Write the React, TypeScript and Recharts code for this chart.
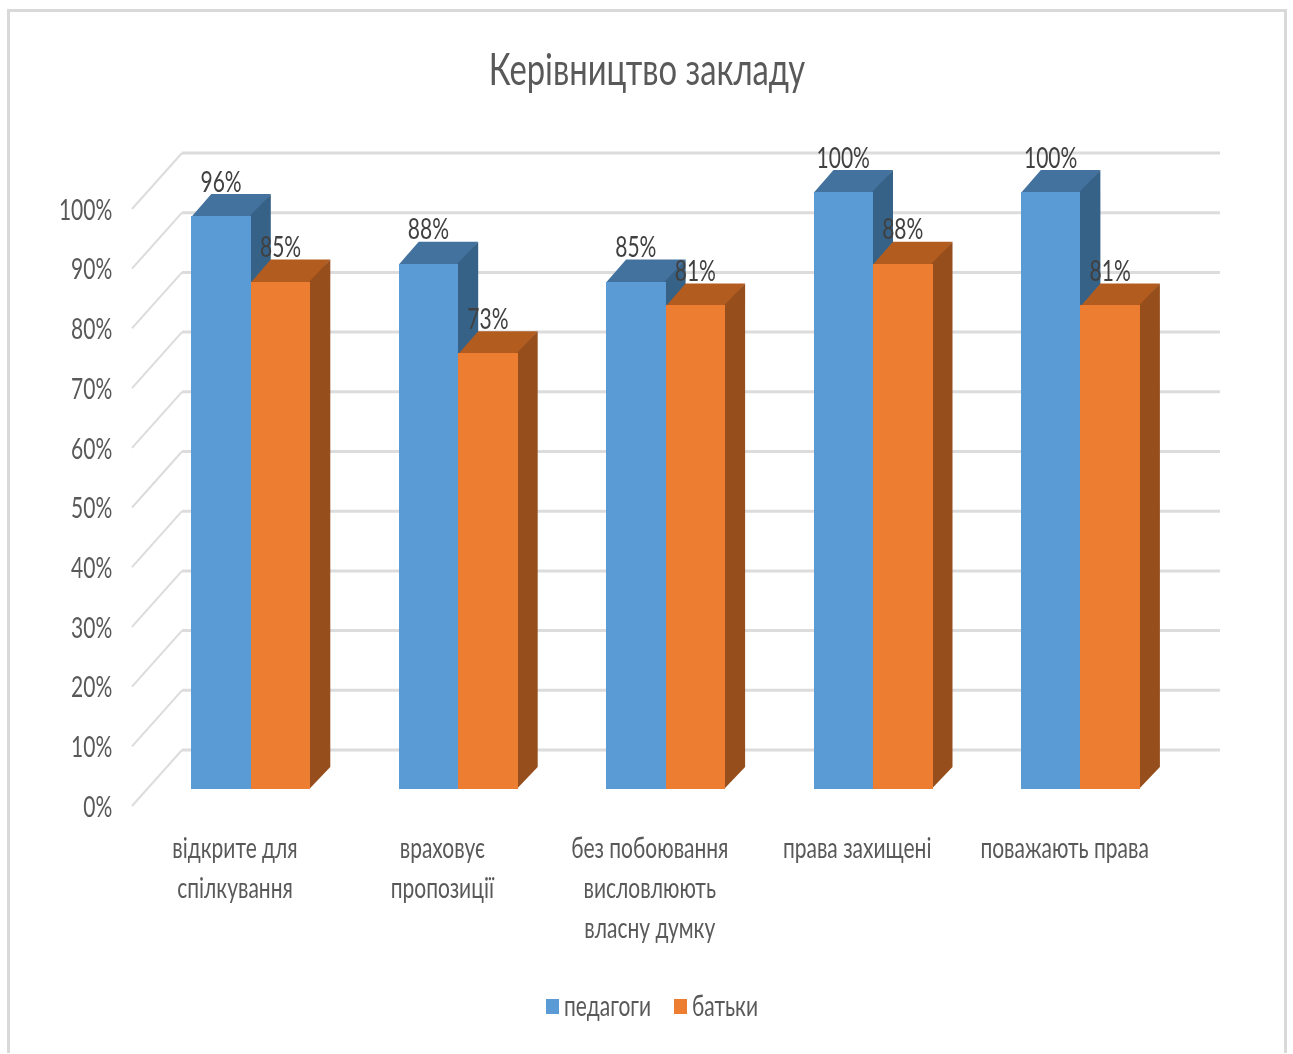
import React from "react";
import {
  Bar,
  BarChart,
  CartesianGrid,
  LabelList,
  Legend,
  XAxis,
  YAxis,
} from "recharts";

const categories = [
  "відкрите для|спілкування",
  "враховує|пропозиції",
  "без побоювання|висловлюють|власну думку",
  "права захищені",
  "поважають права",
];
const teachers = [96, 88, 85, 100, 100];
const parents = [85, 73, 81, 88, 81];
const yTicks = [0, 10, 20, 30, 40, 50, 60, 70, 80, 90, 100];

const chartData = categories.map((name, i) => ({
  name,
  teachers: teachers[i],
  parents: parents[i],
}));

const FONT = "Lato, 'Open Sans', sans-serif";
const TEXT_COLOR = "#595959";
const GRID_COLOR = "#dcdcdc";
// the picture is squeezed horizontally, so all the text is too
const SQUEEZE = 0.75;

const WIDTH = 1293;
const HEIGHT = 1054;
const BAR_DX = 20;
const BAR_DY = 22;

const Squeezed = function ({ x, y, size, anchor = "middle", fill = TEXT_COLOR, children }: any) {
  return (
    <text
      transform={`translate(${x} ${y}) scale(${SQUEEZE} 1)`}
      textAnchor={anchor}
      dominantBaseline="central"
      fontFamily={FONT}
      fontSize={size}
      fill={fill}
    >
      {children}
    </text>
  );
};

// bar with a top and a side face, as in the 3D column chart
const Box = function ({ x, y, width, height, fill, topFill, sideFill }: any) {
  const right = x + width;
  const bottom = y + height;
  return (
    <g>
      <polygon
        points={`${x},${y + 1} ${x + BAR_DX},${y - BAR_DY} ${right + BAR_DX},${y - BAR_DY} ${right},${y + 1}`}
        fill={topFill}
      />
      <polygon
        points={`${right - 1},${y} ${right + BAR_DX},${y - BAR_DY} ${right + BAR_DX},${bottom - BAR_DY} ${right - 1},${bottom}`}
        fill={sideFill}
      />
      <rect x={x} y={y} width={width} height={height} fill={fill} shapeRendering="crispEdges" />
    </g>
  );
};

// back wall line plus the diagonal running to the front edge
const WallLine = function (props: any) {
  const { y1, key } = props;
  return (
    <g key={key}>
      <line x1={182} x2={1220} y1={y1 - 39} y2={y1 - 39} stroke={GRID_COLOR} strokeWidth={3} />
      <line x1={132} x2={182} y1={y1 + 17} y2={y1 - 39} stroke={GRID_COLOR} strokeWidth={2} />
    </g>
  );
};

const YTick = function ({ x, y, payload }: any) {
  return (
    <Squeezed x={x - 27} y={y + 17} size={28} anchor="end">
      {payload.value}%
    </Squeezed>
  );
};

const XTick = function ({ x, payload }: any) {
  const lines = String(payload.value).split("|");
  return (
    <g>
      {lines.map((line, i) => (
        <Squeezed key={line} x={x - 16} y={847 + i * 40} size={28}>
          {line}
        </Squeezed>
      ))}
    </g>
  );
};

const ValueLabel = function (props: any) {
  const { x, y, width, value } = props;
  return (
    <Squeezed x={x + width / 2} y={y - 35} size={28} fill="#404040">
      {value}%
    </Squeezed>
  );
};

const LegendRow = function () {
  const items = [
    { label: "педагоги", color: "#5b9bd5", left: 546 },
    { label: "батьки", color: "#ed7d31", left: 674 },
  ];
  return (
    <svg width={WIDTH} height={40} style={{ display: "block" }}>
      {items.map((item) => (
        <g key={item.label}>
          <rect x={item.left} y={13} width={13} height={15} fill={item.color} />
          <Squeezed x={item.left + 18} y={19} size={28} anchor="start">
            {item.label}
          </Squeezed>
        </g>
      ))}
    </svg>
  );
};

export default function App() {
  return (
    <div
      style={{
        position: "absolute",
        left: 0,
        top: 0,
        width: WIDTH,
        height: HEIGHT,
        background: "#fff",
        overflow: "hidden",
        filter: "blur(0.6px)",
      }}
    >
      <div
        style={{
          position: "absolute",
          left: 7,
          top: 9,
          width: 1280,
          height: 1044,
          boxSizing: "border-box",
          borderTop: "3px solid #d9d9d9",
          borderLeft: "3px solid #d9d9d9",
          borderRight: "3px solid #d9d9d9",
        }}
      />
      <div style={{ position: "absolute", left: 0, top: 0 }}>
        <BarChart
          width={WIDTH}
          height={HEIGHT}
          data={chartData}
          margin={{ top: 192, right: 108.7, bottom: 165, left: 87.3 }}
          barSize={59.5}
          barGap={0}
        >
          <text
            transform="translate(647 68) scale(0.745 1)"
            textAnchor="middle"
            dominantBaseline="central"
            fontFamily={FONT}
            fontSize={44}
            fill={TEXT_COLOR}
          >
            Керівництво закладу
          </text>
          <CartesianGrid vertical={false} horizontal={WallLine} />
          <XAxis
            dataKey="name"
            height={60}
            axisLine={false}
            tickLine={false}
            interval={0}
            tick={XTick}
          />
          <YAxis
            type="number"
            width={60}
            domain={[0, 100]}
            ticks={yTicks}
            axisLine={false}
            tickLine={false}
            tick={YTick}
          />
          <Legend
            content={LegendRow}
            wrapperStyle={{ position: "absolute", left: 0, top: 986, width: WIDTH, height: 40 }}
          />
          <Bar
            dataKey="teachers"
            name="педагоги"
            fill="#5b9bd5"
            isAnimationActive={false}
            shape={(p: any) => <Box {...p} topFill="#44729f" sideFill="#376287" />}
          >
            <LabelList dataKey="teachers" content={ValueLabel} />
          </Bar>
          <Bar
            dataKey="parents"
            name="батьки"
            fill="#ed7d31"
            isAnimationActive={false}
            shape={(p: any) => <Box {...p} topFill="#b35c20" sideFill="#964f1c" />}
          >
            <LabelList dataKey="parents" content={ValueLabel} />
          </Bar>
        </BarChart>
      </div>
    </div>
  );
}
